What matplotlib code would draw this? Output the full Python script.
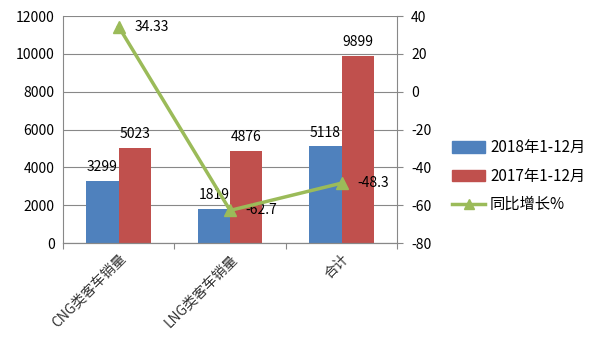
import matplotlib
matplotlib.use("Agg")
import numpy as np
import matplotlib.pyplot as plt
from matplotlib.lines import Line2D
import matplotlib.patches as mpatches

plt.rcParams['font.family'] = ['Noto Sans CJK SC', 'DejaVu Sans']
plt.rcParams['axes.unicode_minus'] = False

# ── 数据 ──────────────────────────────────────────
categories = ["CNG类客车销量", "LNG类客车销量", "合计"]
sales_2018 = [3299, 1819, 5118]
sales_2017 = [5023, 4876, 9899]
growth_pct = [34.33, -62.7, -48.3]
growth_labels = ["34.33", "-62.7", "-48.3"]
series_names = ["2018年1-12月", "2017年1-12月", "同比增长%"]

BLUE = "#4F81BD"
RED = "#C0504D"
GREEN = "#9BBB59"

fig = plt.figure(figsize=(6, 3.56), dpi=100)
ax = fig.add_axes([0.105, 0.317, 0.557, 0.638])
ax2 = ax.twinx()

x = np.arange(len(categories))
w = 0.29
ax.bar(x - w / 2, sales_2018, w, color=BLUE, zorder=2)
ax.bar(x + w / 2, sales_2017, w, color=RED, zorder=2)

for xi, v in zip(x, sales_2018):
    ax.text(xi - w / 2, v + 350, str(v), ha="center", va="bottom", fontsize=10)
for xi, v in zip(x, sales_2017):
    ax.text(xi + w / 2, v + 350, str(v), ha="center", va="bottom", fontsize=10)

ax.set_xlim(-0.5, 2.5)
ax.set_ylim(0, 12000)
ax.set_yticks(np.arange(0, 12001, 2000))
ax.grid(axis="y", color="#888888", linewidth=0.8, zorder=0)
ax.set_axisbelow(True)
# 类别边界刻度 + 居中类别标签
ax.set_xticks([-0.5, 0.5, 1.5, 2.5], minor=False)
ax.set_xticklabels([])
ax.set_xticks(x, minor=True)
ax.set_xticklabels(categories, minor=True, rotation=45, ha="right",
                   rotation_mode="anchor", fontsize=10, color="#333333")
ax.tick_params(axis="x", which="minor", length=0, pad=6)
ax.tick_params(axis="x", which="major", length=4, color="#888888", direction="out")
ax.tick_params(axis="y", length=0, labelsize=10, pad=6)

ax2.plot(x, growth_pct, color=GREEN, linewidth=2.5, marker="^",
         markersize=8, zorder=5)
for xi, v, s in zip(x, growth_pct, growth_labels):
    ax2.text(xi + 0.14, v, s, ha="left", va="center", fontsize=10)
ax2.set_ylim(-80, 40)
ax2.set_yticks(np.arange(-80, 41, 20))
ax2.tick_params(axis="y", length=4, color="#888888", labelsize=10, pad=6)

for a in (ax, ax2):
    a.spines["top"].set_visible(False)
    a.spines["left"].set_color("#888888")
    a.spines["right"].set_color("#888888")
    a.spines["bottom"].set_color("#888888")
ax2.spines["left"].set_visible(False)
ax.spines["right"].set_visible(False)

handles = [
    mpatches.Patch(color=BLUE, label=series_names[0]),
    mpatches.Patch(color=RED, label=series_names[1]),
    Line2D([0], [0], color=GREEN, linewidth=2.5, marker="^", markersize=7,
           label=series_names[2]),
]
fig.legend(handles=handles, loc="center left", bbox_to_anchor=(0.73, 0.505),
           frameon=False, fontsize=11, handlelength=2.2, handleheight=0.8,
           labelspacing=0.75, handletextpad=0.3)

fig.savefig("out.png", dpi=100)
